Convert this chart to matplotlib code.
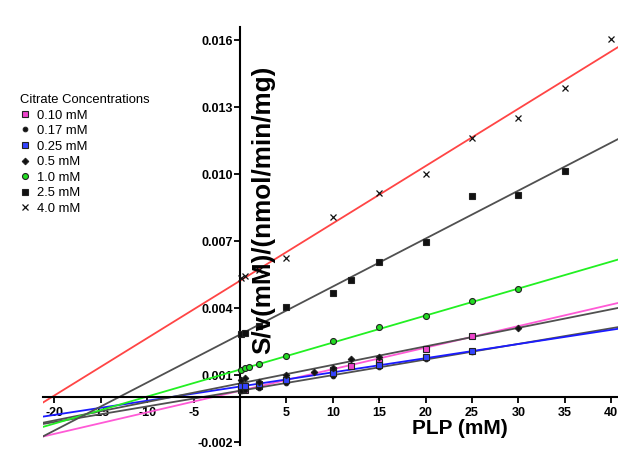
#Hanes-Woolf plot of PLP kinetics at several citrate concentrations
import numpy as np
import matplotlib
matplotlib.use('Agg')
import matplotlib.pyplot as plt

plt.rcParams['font.family'] = ['Liberation Sans', 'DejaVu Sans']
plt.rcParams['axes.unicode_minus'] = False

#data
labels = ['0.10 mM', '0.17 mM', '0.25 mM', '0.5 mM', '1.0 mM', '2.5 mM', '4.0 mM']

x_010 = [0.1, 0.5, 2, 5, 10, 12, 15, 20, 25]
y_010 = [0.00032, 0.00035, 0.00050, 0.00078, 0.00125, 0.00141, 0.00160, 0.00217, 0.00275]

x_017 = [0.1, 0.5, 2, 5, 10, 15, 20, 25]
y_017 = [0.00028, 0.00033, 0.00044, 0.00065, 0.00098, 0.00135, 0.00172, 0.00205]

x_025 = [0.1, 0.5, 2, 5, 10, 15, 20, 25]
y_025 = [0.00050, 0.00052, 0.00062, 0.00080, 0.00110, 0.00145, 0.00181, 0.00208]

x_05 = [0.1, 0.5, 2, 5, 8, 10, 12, 15, 30]
y_05 = [0.00078, 0.00087, 0.00071, 0.00101, 0.00113, 0.00132, 0.00172, 0.00180, 0.00311]

x_10 = [0.1, 0.5, 1, 2, 5, 10, 15, 20, 25, 30]
y_10 = [0.00123, 0.00130, 0.00137, 0.00150, 0.00186, 0.00253, 0.00316, 0.00365, 0.00432, 0.00486]

x_25 = [0.1, 0.5, 2, 5, 10, 12, 15, 20, 25, 30, 35]
y_25 = [0.00283, 0.00288, 0.00320, 0.00405, 0.00467, 0.00526, 0.00607, 0.00696, 0.00902, 0.00907, 0.01014]

x_40 = [0.1, 0.5, 2, 5, 10, 15, 20, 25, 30, 35, 40]
y_40 = [0.00535, 0.00544, 0.00571, 0.00625, 0.00808, 0.00916, 0.01000, 0.01162, 0.01251, 0.01386, 0.01605]

#fitted lines (slope, intercept) as drawn in the picture
slopes = [0.0000966, 0.000070, 0.0000635, 0.000083, 0.000121, 0.000215, 0.000257]
intercepts = [0.00030, 0.00030, 0.00049, 0.00063, 0.00125, 0.00282, 0.00523]

xs = [x_010, x_017, x_025, x_05, x_10, x_25, x_40]
ys = [y_010, y_017, y_025, y_05, y_10, y_25, y_40]

line_colors = ['#ff5ad6', '#505050', '#1a1aff', '#505050', '#22f022', '#505050', '#ff4545']
markers = ['s', 'o', 's', 'D', 'o', 's', 'x']
face_colors = ['#ee44cc', '#111111', '#3344ff', '#111111', '#22dd22', '#111111', '#111111']
marker_sizes = [4.3, 3.3, 4.3, 3.3, 4.3, 4.3, 4.5]

xlo, xhi = -21.23, 40.73

fig = plt.figure(figsize=(6.18, 4.5), dpi=100)
ax = fig.add_axes([43/618, 5/450, 1 - 43/618, 418/450])

#fit lines across the whole x range
xline = np.array([xlo, xhi])
for m, b, c in zip(slopes, intercepts, line_colors):
    ax.plot(xline, m*xline + b, color=c, lw=1.3, zorder=2)

#data points
for x, y, lab, mk, fc, ms in zip(xs, ys, labels, markers, face_colors, marker_sizes):
    if mk == 'x':
        ax.plot(x, y, ls='none', marker=mk, color='#111111', ms=ms, mew=0.9, label=lab, zorder=3)
    else:
        ax.plot(x, y, ls='none', marker=mk, mfc=fc, mec='#222222', ms=ms, mew=0.8, label=lab, zorder=3)

ax.set_xlim(xlo, xhi)
ax.set_ylim(-0.00213, 0.0166)

#spines crossing at origin
ax.spines['left'].set_position(('data', 0))
ax.spines['bottom'].set_position(('data', 0))
ax.spines['top'].set_visible(False)
ax.spines['right'].set_visible(False)
ax.spines['left'].set_linewidth(1.5)
ax.spines['bottom'].set_linewidth(1.5)

xt = [-20, -15, -10, -5, 5, 10, 15, 20, 25, 30, 35, 40]
yt = [-0.002, 0.001, 0.004, 0.007, 0.010, 0.013, 0.016]
ax.set_xticks(xt)
ax.set_xticklabels([str(v) for v in xt])
ax.set_yticks(yt)
ax.set_yticklabels(['{:.3f}'.format(v) for v in yt])
ax.tick_params(axis='both', direction='out', length=4, width=1.3, labelsize=9)
ax.tick_params(axis='x', pad=3)
ax.tick_params(axis='y', pad=1)
for t in ax.get_xticklabels() + ax.get_yticklabels():
    t.set_fontweight('bold')

fig.text(460/618, 1 - 428/450, 'PLP (mM)', ha='center', va='center', fontsize=15, fontweight='bold')
fig.text(263/618, 1 - 210/450, 'S/v(mM)/(nmol/min/mg)', ha='center', va='center',
         rotation=90, fontsize=18.8, fontweight='bold')

leg = ax.legend(loc='upper left', bbox_to_anchor=(20/618, 1 - 94/450), bbox_transform=fig.transFigure,
                title='Citrate Concentrations', alignment='left', frameon=False, fontsize=9.4,
                title_fontsize=9.4, borderpad=0, borderaxespad=0, labelspacing=0.26,
                handlelength=0.8, handletextpad=0.5)

plt.savefig('out.png', dpi=100)
